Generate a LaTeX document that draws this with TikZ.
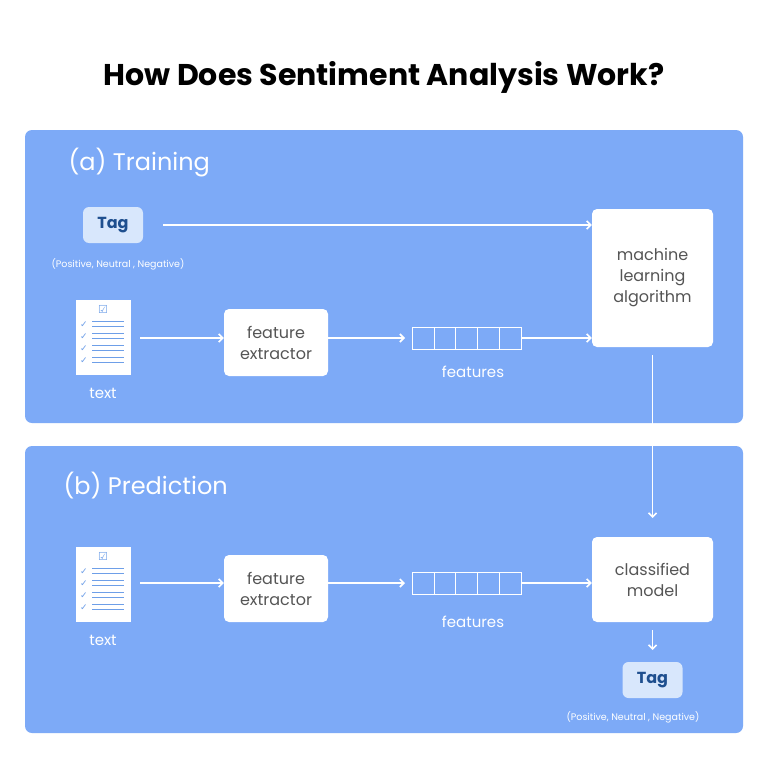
\documentclass[tikz,border=0pt]{standalone}
\usepackage{fontspec}
\setmainfont{Poppins}
\newfontfamily\symfont{DejaVu Sans}
\usetikzlibrary{arrows.meta}
\definecolor{panel}{HTML}{7DAAF7}
\definecolor{tagbg}{HTML}{D8E7FC}
\definecolor{tagfg}{HTML}{1E4F8F}
\definecolor{gtxt}{HTML}{555555}
\definecolor{icon}{HTML}{6E9FE8}
\tikzset{
 panelbox/.style={fill=panel,rounded corners=7pt,draw=none},
 wbox/.style={fill=white,rounded corners=5pt,align=center,text=gtxt,font=\fontsize{16}{21}\selectfont},
 tagbox/.style={fill=tagbg,rounded corners=6pt,text=tagfg,font=\fontsize{16}{18}\selectfont\bfseries,minimum width=60pt,minimum height=36pt},
 wtxt/.style={text=white,font=\fontsize{15}{18}\selectfont},
 captxt/.style={text=white,font=\fontsize{9.5}{11}\selectfont},
 arr/.style={draw=white,line width=1.6pt,-{Straight Barb[length=4pt,width=8pt]}},
 cell/.style={draw=white,line width=0.8pt,minimum width=21.8pt,minimum height=22pt,inner sep=0pt},
}
\newcommand{\docicon}[2]{%
 \node[fill=white,minimum width=55pt,minimum height=75pt,inner sep=0pt] (#2) at (#1) {};
 \node[text=icon,font=\symfont\fontsize{11}{11}\selectfont,inner sep=0pt] at ([yshift=-10pt]#2.north) {☑};
 \foreach \k in {0,1,2,3}{
  \node[text=icon,font=\symfont\fontsize{9}{9}\selectfont,inner sep=0pt] at ([xshift=-19pt,yshift=-25pt-12*\k pt]#2.north) {✓};
  \draw[icon,line width=0.7pt] ([xshift=-11pt,yshift=-22pt-12*\k pt]#2.north) -- ++(32pt,0);
  \draw[icon,line width=0.7pt] ([xshift=-11pt,yshift=-27pt-12*\k pt]#2.north) -- ++(32pt,0);
 }}
\begin{document}
\begin{tikzpicture}[x=1pt,y=-1pt]
\useasboundingbox (0,0) rectangle (768,768);
\fill[white] (0,0) rectangle (768,768);
\node[font=\fontsize{30}{34}\selectfont\bfseries] (title) at (384,77) {How Does Sentiment Analysis Work?};
\fill[panelbox] (25,130) rectangle (743,423);
\fill[panelbox] (25,446) rectangle (743,733);
\node[text=white,font=\fontsize{24}{28}\selectfont,anchor=west] (ta) at (65,163) {(a) Training};
\node[text=white,font=\fontsize{24}{28}\selectfont,anchor=west] (pb) at (60,486) {(b) Prediction};
% training
\node[tagbox] (tag1) at (113,225) {Tag};
\node[captxt] (cap1) at (118,264) {(Positive, Neutral , Negative)};
\node[wbox,minimum width=121pt,minimum height=138pt] (ml) at (652.5,278) {machine\\learning\\algorithm};
\draw[arr] (163,225) -- (ml.west |- 0,225);
\docicon{103,337}{doc1}
\node[wtxt] (t1) at (103,393) {text};
\node[wbox,minimum width=104pt,minimum height=67pt] (fe1) at (276,342.5) {feature\\extractor};
\draw[arr] (140,338) -- (fe1.west |- 0,338);
\foreach \i in {0,...,4}{\node[cell] (ca\i) at (423+21.8*\i,338) {};}
\draw[arr] (fe1.east |- 0,338) -- (405,338);
\draw[arr] (ca4.east) -- (ml.west |- 0,338);
\node[wtxt] (f1) at (473,372) {features};
% prediction
\node[wbox,minimum width=121pt,minimum height=85pt] (cm) at (652.5,579.5) {classified\\model};
\draw[arr] (ml.south |- 0,355) -- (cm.north |- 0,518);
\docicon{103,584}{doc2}
\node[wtxt] (t2) at (103,640) {text};
\node[wbox,minimum width=104pt,minimum height=67pt] (fe2) at (276,588.5) {feature\\extractor};
\draw[arr] (140,583) -- (fe2.west |- 0,583);
\foreach \i in {0,...,4}{\node[cell] (cb\i) at (423+21.8*\i,583) {};}
\draw[arr] (fe2.east |- 0,583) -- (405,583);
\draw[arr] (cb4.east) -- (cm.west |- 0,583);
\node[wtxt] (f2) at (473,622) {features};
\node[tagbox] (tag2) at (652.5,680) {Tag};
\draw[arr] (652.5,630) -- (tag2.north |- 0,650);
\node[captxt] (cap2) at (633,717) {(Positive, Neutral , Negative)};
\end{tikzpicture}
\end{document}
